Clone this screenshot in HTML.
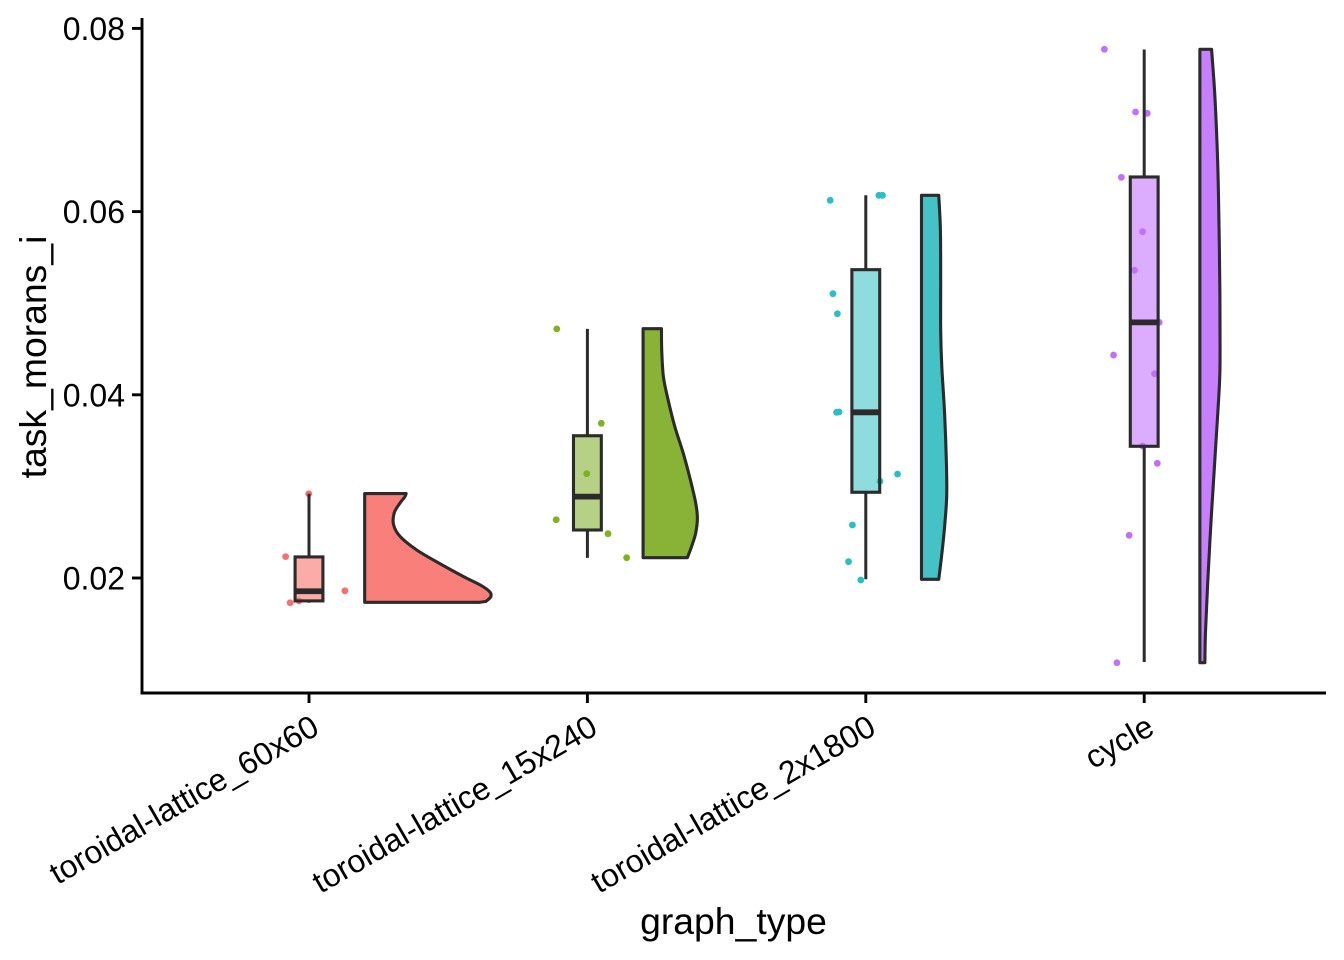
<!DOCTYPE html>
<html>
<head>
<meta charset="utf-8">
<style>
html,body{margin:0;padding:0;background:#fff;}
svg{display:block;font-family:"Liberation Sans",Arial,sans-serif;}
</style>
</head>
<body>
<svg id="chart" width="1344" height="960" viewBox="0 0 1344 960" xmlns="http://www.w3.org/2000/svg">
  <text x="733.5" y="934" font-size="37.33" text-anchor="middle" fill="#000">graph_type</text>
  <text transform="translate(46 357) rotate(-90)" font-size="37.33" text-anchor="middle" fill="#000">task_morans_i</text>
</svg>
<script>
const categories = ["toroidal-lattice_60x60", "toroidal-lattice_15x240", "toroidal-lattice_2x1800", "cycle"];
const violinColors = ["#F9807A", "#88B337", "#45C2C6", "#C77EFF"];
const boxColors = ["#FBACA8", "#B6D186", "#8EDCDD", "#DCADFF"];
const pointColors = ["#FA6F6B", "#7FB31C", "#2ABFC4", "#C070FF"];
const yTicks = [0.02, 0.04, 0.06, 0.08];
const yTickLabels = ["0.02", "0.04", "0.06", "0.08"];

const whiskerLow = [0.0173, 0.0222, 0.01986, 0.01083];
const boxQ1 = [0.0175, 0.02524, 0.02936, 0.03438];
const boxMedian = [0.01855, 0.02888, 0.03809, 0.04791];
const boxQ3 = [0.0223, 0.03553, 0.05366, 0.06378];
const whiskerHigh = [0.0292, 0.0472, 0.06178, 0.0777];

const pointValues = [
  [0.0292, 0.02233, 0.0173, 0.0175, 0.0186],
  [0.0472, 0.03689, 0.03139, 0.02636, 0.02484, 0.02222],
  [0.06123, 0.06178, 0.06178, 0.05104, 0.04885, 0.03809, 0.03812, 0.03135, 0.03056, 0.02579, 0.02178, 0.01978],
  [0.07772, 0.07087, 0.07073, 0.06374, 0.05781, 0.05359, 0.04791, 0.04434, 0.0423, 0.03441, 0.03252, 0.02466, 0.01075]
];
const pointJitter = [
  [-0.001, -0.084, -0.068, -0.036, 0.129],
  [-0.11, 0.05, -0.0025, -0.112, 0.074, 0.141],
  [-0.128, 0.047, 0.06, -0.118, -0.102, -0.105, -0.096, 0.114, 0.051, -0.048, -0.062, -0.018],
  [-0.143, -0.031, 0.011, -0.082, -0.006, -0.035, 0.054, -0.11, 0.037, -0.006, 0.047, -0.054, -0.098]
];

const violinValues = [
  [0.02922, 0.02885, 0.02815, 0.0271, 0.02579, 0.02451, 0.02306, 0.02164, 0.02014, 0.01924, 0.0185, 0.01796, 0.01745],
  [0.04722, 0.04489, 0.04198, 0.03943, 0.03652, 0.03365, 0.0307, 0.02819, 0.02655, 0.02491, 0.02342, 0.02222],
  [0.06178, 0.05799, 0.05253, 0.04707, 0.04307, 0.03801, 0.03255, 0.02888, 0.02524, 0.02233, 0.01986],
  [0.07772, 0.07254, 0.06531, 0.05799, 0.05071, 0.04489, 0.04129, 0.03397, 0.02669, 0.01945, 0.014, 0.01075]
];
const violinDensity = [
  [0.149, 0.144, 0.126, 0.106, 0.104, 0.128, 0.187, 0.266, 0.356, 0.415, 0.449, 0.453, 0.436],
  [0.066, 0.067, 0.073, 0.09, 0.114, 0.144, 0.17, 0.189, 0.195, 0.189, 0.174, 0.159],
  [0.062, 0.068, 0.069, 0.069, 0.073, 0.083, 0.0895, 0.0905, 0.082, 0.072, 0.062],
  [0.042, 0.054, 0.064, 0.069, 0.072, 0.0725, 0.0705, 0.056, 0.041, 0.028, 0.02, 0.018]
];

const NS = "http://www.w3.org/2000/svg";
const svg = document.getElementById("chart");
const LINE = "#2b2b2b";
const BOX_HALF = 0.05;
const VIOLIN_OFFSET = 0.2;

function xScale(u) { return 309 + 278.4 * u; }
function yScale(v) { return 578 - (v - 0.02) * 9160; }

function add(parent, tag, attrs) {
  const el = document.createElementNS(NS, tag);
  for (const k in attrs) el.setAttribute(k, attrs[k]);
  parent.appendChild(el);
  return el;
}

function smoothPath(pts) {
  let d = "";
  for (let i = 0; i < pts.length - 1; i++) {
    const p0 = pts[Math.max(i - 1, 0)], p1 = pts[i], p2 = pts[i + 1], p3 = pts[Math.min(i + 2, pts.length - 1)];
    const c1x = p1[0] + (p2[0] - p0[0]) / 6, c1y = p1[1] + (p2[1] - p0[1]) / 6;
    const c2x = p2[0] - (p3[0] - p1[0]) / 6, c2y = p2[1] - (p3[1] - p1[1]) / 6;
    d += " C" + c1x.toFixed(2) + " " + c1y.toFixed(2) + " " + c2x.toFixed(2) + " " + c2y.toFixed(2) + " " + p2[0].toFixed(2) + " " + p2[1].toFixed(2);
  }
  return d;
}

categories.forEach(function (cat, i) {
  const g = add(svg, "g", {});
  
  

  // violin
  const base = xScale(i + VIOLIN_OFFSET);
  const outline = violinValues[i].map(function (v, j) {
    return [xScale(i + VIOLIN_OFFSET + violinDensity[i][j]), yScale(v)];
  });
  const top = yScale(violinValues[i][0]);
  const bottom = i === 0 ? yScale(0.01735) : yScale(violinValues[i][violinValues[i].length - 1]);
  const closing = i === 0 ? " L" + (outline[outline.length - 1][0] - 6).toFixed(2) + " " + bottom.toFixed(2) : "";
  const d = "M" + base.toFixed(2) + " " + top.toFixed(2) + " L" + outline[0][0].toFixed(2) + " " + top.toFixed(2) +
    smoothPath(outline) + closing + " L" + base.toFixed(2) + " " + bottom.toFixed(2) + " Z";
  const violin = add(g, "path", { d: d, fill: violinColors[i], stroke: LINE, "stroke-width": 3.1, "stroke-linejoin": "round" });
  
  

  // box fill
  const cx = xScale(i);
  const bl = xScale(i - BOX_HALF), br = xScale(i + BOX_HALF);
  const q1 = yScale(boxQ1[i]), q3 = yScale(boxQ3[i]), med = yScale(boxMedian[i]);
  const boxFill = add(g, "rect", { x: bl, y: q3, width: br - bl, height: q1 - q3, fill: boxColors[i] });
  
  

  // points
  pointValues[i].forEach(function (v, j) {
    const dot = add(g, "circle", { cx: xScale(i + pointJitter[i][j]), cy: yScale(v), r: 3.4, fill: pointColors[i] });
    
    
  });

  // whiskers
  const wHi = add(g, "line", { x1: cx, x2: cx, y1: yScale(whiskerHigh[i]), y2: q3, stroke: LINE, "stroke-width": 3 });
  
  
  const wLo = add(g, "line", { x1: cx, x2: cx, y1: q1, y2: yScale(whiskerLow[i]), stroke: LINE, "stroke-width": 3 });
  
  

  // box outline and median
  const box = add(g, "rect", { x: bl, y: q3, width: br - bl, height: q1 - q3, fill: "none", stroke: LINE, "stroke-width": 3.1 });
  
  
  const median = add(g, "line", { x1: bl, x2: br, y1: med, y2: med, stroke: LINE, "stroke-width": 5.8 });
  
  
});

// axes
const yAxisLine = add(svg, "line", { x1: 142, x2: 142, y1: 18, y2: 694, stroke: "#000", "stroke-width": 2.9 });


const xAxisLine = add(svg, "line", { x1: 140.5, x2: 1326, y1: 693, y2: 693, stroke: "#000", "stroke-width": 2.9 });



yTicks.forEach(function (v, i) {
  const y = yScale(v);
  const t = add(svg, "line", { x1: 132, x2: 142, y1: y, y2: y, stroke: "#000", "stroke-width": 2.9 });
  
  
  const label = add(svg, "text", { x: 125, y: y + 11.5, "font-size": 32, "text-anchor": "end", fill: "#000" });
  label.textContent = yTickLabels[i];
  
  
});

categories.forEach(function (cat, i) {
  const x = xScale(i);
  const t = add(svg, "line", { x1: x, x2: x, y1: 693, y2: 703, stroke: "#000", "stroke-width": 2.9 });
  
  
  const label = add(svg, "text", { transform: "translate(" + (x + 12) + " 733) rotate(-30)", "font-size": 32, "text-anchor": "end", fill: "#000" });
  label.textContent = cat;
  
  
});
</script>
</body>
</html>
